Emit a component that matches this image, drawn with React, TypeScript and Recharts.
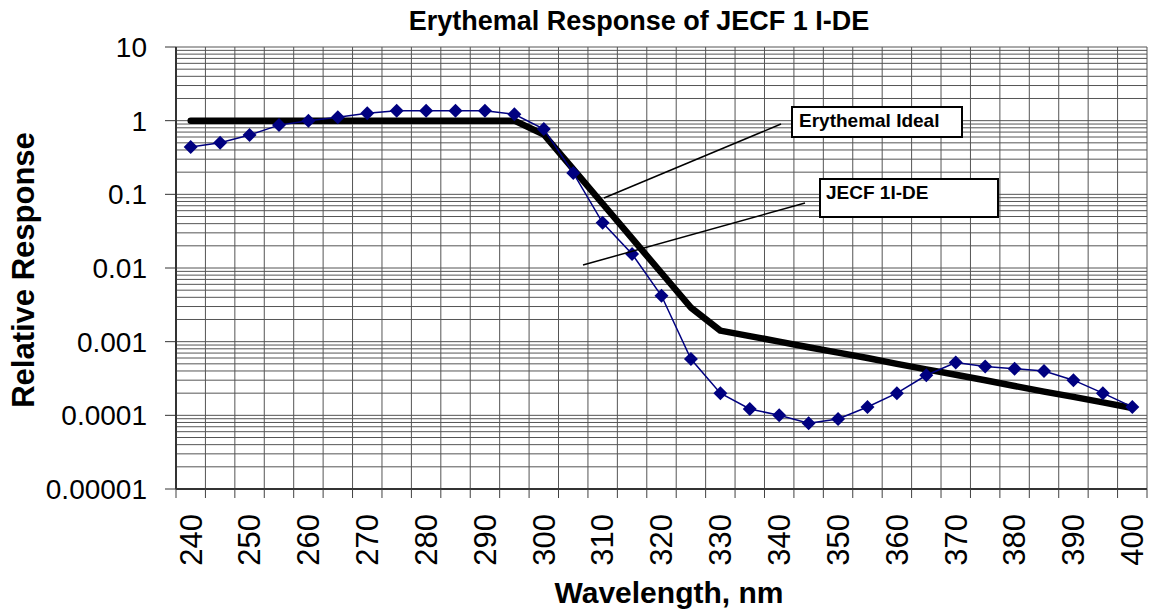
import { LineChart, Line, XAxis, YAxis, CartesianGrid } from "recharts";

const FONT = '"Liberation Sans", Arial, sans-serif';

// wavelength categories, nm
const WAVELENGTHS = [
  240, 245, 250, 255, 260, 265, 270, 275, 280, 285, 290, 295, 300, 305, 310,
  315, 320, 325, 330, 335, 340, 345, 350, 355, 360, 365, 370, 375, 380, 385,
  390, 395, 400,
];

// CIE erythemal action spectrum (the "ideal")
const IDEAL = [
  1, 1, 1, 1, 1, 1, 1, 1, 1, 1, 1, 1, 0.649, 0.22, 0.0745, 0.0252, 0.00855,
  0.0029, 0.00141, 0.00119, 0.001, 0.00084, 0.00071, 0.0006, 0.0005, 0.00042,
  0.000355, 0.0003, 0.00025, 0.00021, 0.000178, 0.00015, 0.000126,
];

// measured detector response
const JECF = [
  0.44, 0.5, 0.64, 0.87, 1.0, 1.11, 1.26, 1.36, 1.36, 1.36, 1.36, 1.22, 0.77,
  0.195, 0.041, 0.0155, 0.0042, 0.00058, 0.0002, 0.000122, 0.0001, 0.000078,
  0.000089, 0.00013, 0.0002, 0.00035, 0.00052, 0.00046, 0.00043, 0.0004,
  0.0003, 0.0002, 0.00013,
];

const X_LABELS = [
  240, 250, 260, 270, 280, 290, 300, 310, 320, 330, 340, 350, 360, 370, 380,
  390, 400,
];
const DECADES = [0.00001, 0.0001, 0.001, 0.01, 0.1, 1, 10];

const data = WAVELENGTHS.map((wl, i) => ({ wl, ideal: IDEAL[i], jecf: JECF[i] }));

// category boundaries (Excel puts the grid between the points)
const BOUNDS = [...WAVELENGTHS.map((w) => w - 2.5), WAVELENGTHS[WAVELENGTHS.length - 1] + 2.5];
const MINOR = DECADES.slice(0, -1)
  .flatMap((d) => [1, 2, 3, 4, 5, 6, 7, 8, 9].map((k) => k * d))
  .concat([10]);

const W = 1156;
const H = 614;
const MARGIN = { top: 47, right: 9, bottom: 0, left: 0 };
const Y_W = 176;
const PLOT_W = W - MARGIN.left - MARGIN.right - Y_W;
const PLOT_H = H - MARGIN.top - 125;
const HALF_STEP = PLOT_W / (BOUNDS.length - 1) / 2;

// horizontal grid on every minor log value
const minorGrid = ({ yAxis }: any) => {
  if (yAxis && typeof yAxis.scale === "function") {
    return MINOR.map((v) => yAxis.scale(v));
  }
  const lo = Math.log10(DECADES[0]);
  const hi = Math.log10(DECADES[DECADES.length - 1]);
  return MINOR.map((v) => MARGIN.top + ((hi - Math.log10(v)) / (hi - lo)) * PLOT_H);
};

const XTick = (props: any) => {
  const { x, y, payload } = props;
  const center = payload.value + 2.5;
  if (!X_LABELS.includes(center)) return null;
  const cx = x + HALF_STEP;
  return (
    <text
      x={cx}
      y={y}
      dy="0.35em"
      textAnchor="end"
      transform={`rotate(-90, ${cx}, ${y})`}
      fontSize={31}
      fontFamily={FONT}
      fill="#000"
    >
      {center}
    </text>
  );
};

const Diamond = (props: any) => {
  const { cx, cy } = props;
  if (cx == null || cy == null) return null;
  const r = 7;
  return (
    <path
      d={`M${cx},${cy - r}L${cx + r},${cy}L${cx},${cy + r}L${cx - r},${cy}Z`}
      fill="#000080"
    />
  );
};

export default function App() {
  return (
    <div style={{ position: "absolute", left: 0, top: 0, width: W, height: H, background: "#fff" }}>
      <LineChart width={W} height={H} data={data} margin={MARGIN}>
        <CartesianGrid
          yAxisId="main"
          stroke="#555"
          strokeWidth={1}
          horizontalCoordinatesGenerator={minorGrid}
        />
        <XAxis
          dataKey="wl"
          type="number"
          domain={[237.5, 402.5]}
          allowDataOverflow
          ticks={BOUNDS}
          interval={0}
          height={125}
          tickSize={9}
          tickMargin={16}
          tickLine={{ stroke: "#404040" }}
          axisLine={{ stroke: "#333", strokeWidth: 2 }}
          tick={(p: any) => <XTick {...p} />}
        />
        <YAxis
          yAxisId="main"
          scale="log"
          type="number"
          domain={[0.00001, 10]}
          allowDataOverflow
          ticks={DECADES}
          interval={0}
          width={Y_W}
          tickSize={11}
          tickMargin={18}
          tickFormatter={(v: number) => String(v)}
          tick={{ fontSize: 28, fill: "#000", fontFamily: FONT }}
          tickLine={{ stroke: "#333" }}
          axisLine={{ stroke: "#333", strokeWidth: 2 }}
        />
        <Line
          yAxisId="main"
          type="linear"
          dataKey="ideal"
          stroke="#000"
          strokeWidth={6.5}
          strokeLinecap="round"
          strokeLinejoin="round"
          dot={false}
          isAnimationActive={false}
        />
        <Line
          yAxisId="main"
          type="linear"
          dataKey="jecf"
          stroke="#000080"
          strokeWidth={1.5}
          dot={(p: any) => <Diamond key={p.index} {...p} />}
          isAnimationActive={false}
        />
      </LineChart>
      <svg
        width={W}
        height={H}
        style={{ position: "absolute", left: 0, top: 0, pointerEvents: "none" }}
        fontFamily={FONT}
      >
        <text x={639} y={30} textAnchor="middle" fontSize={27} fontWeight="bold">
          Erythemal Response of JECF 1 I-DE
        </text>
        <text
          x={34}
          y={270}
          textAnchor="middle"
          fontSize={31}
          fontWeight="bold"
          transform="rotate(-90, 34, 270)"
        >
          Relative Response
        </text>
        <text x={669} y={603} textAnchor="middle" fontSize={30} fontWeight="bold">
          Wavelength, nm
        </text>

        <line x1={781} y1={124} x2={604} y2={198} stroke="#000" strokeWidth={1.5} />
        <rect x={792} y={107} width={170} height={30} fill="#fff" stroke="#000" strokeWidth={2} />
        <text x={799} y={127} fontSize={19} fontWeight="bold">
          Erythemal Ideal
        </text>

        <line x1={805} y1={203} x2={583} y2={265} stroke="#000" strokeWidth={1.5} />
        <rect x={820} y={179} width={178} height={38} fill="#fff" stroke="#000" strokeWidth={2} />
        <text x={826} y={199} fontSize={19} fontWeight="bold">
          JECF 1I-DE
        </text>
      </svg>
    </div>
  );
}
